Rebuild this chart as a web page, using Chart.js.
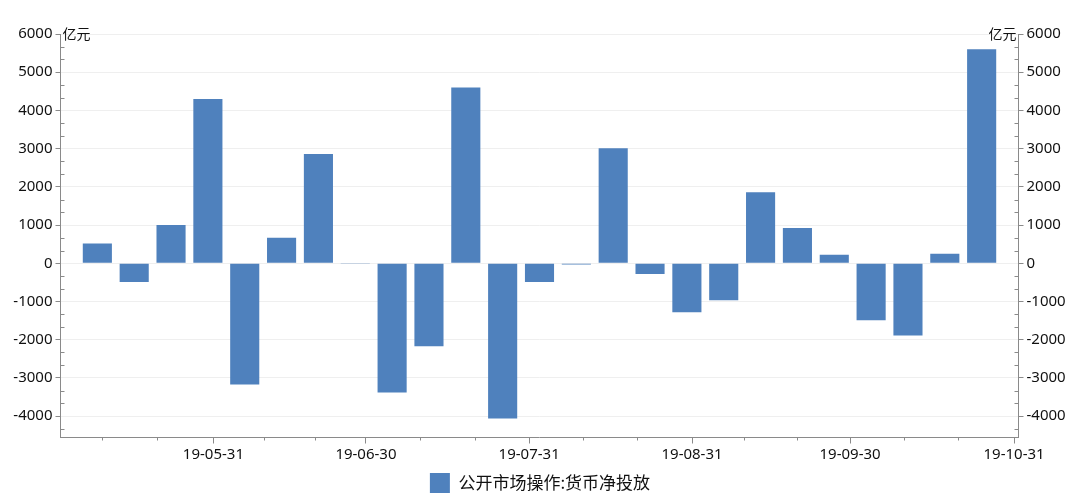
<!DOCTYPE html>
<html>
<head>
<meta charset="utf-8">
<script src="https://cdn.jsdelivr.net/npm/chart.js@4/dist/chart.umd.min.js"></script>
<style>
  html, body { margin: 0; background: #fff; }
  #wrap { width: 1080px; height: 503px; }
</style>
</head>
<body>
<div id="wrap"><canvas id="chart" width="1080" height="503"></canvas></div>
<script>
// weekly net injection from open market operations (亿元)
const seriesName = '公开市场操作:货币净投放';
const unitLabel = '亿元';
const netInjection = [520, -490, 1000, 4300, -3170, 670, 2860, -20, -3380, -2175, 4600, -4060, -490,
  -30, 3010, -280, -1285, -970, 1860, 920, 220, -1490, -1890, 250, 5600];

// x axis: month-end labels, given in week-index units
const dateTickLabels = ['19-05-31', '19-06-30', '19-07-31', '19-08-31', '19-09-30', '19-10-31'];
const dateTickPos = [3.15, 7.29, 11.72, 16.14, 20.43, 24.88];
const minorDatePos = [0.12, 1.63, 4.52, 5.90, 8.75, 10.24, 13.18, 14.65, 17.56, 18.99, 21.90, 23.36];

const yTicks = [-4000, -3000, -2000, -1000, 0, 1000, 2000, 3000, 4000, 5000, 6000];
const yMin = -4560, yMax = 6000;

const axisColor = '#8a8a8a';
const barColor = '#4f81bd';
const tickFont = { family: '"Noto Sans", sans-serif', size: 15 };

// two minor ticks between each pair of major y ticks
const yMinor = [];
for (let v = yTicks[0] - 1000; v < yMax; v += 1000) {
  [1 / 3, 2 / 3].forEach(f => {
    const m = v + 1000 * f;
    if (m > yMin && m < yMax) yMinor.push(m);
  });
}

const extras = {
  id: 'extras',
  afterDraw(chart) {
    const { ctx, chartArea, scales } = chart;
    ctx.save();
    ctx.strokeStyle = axisColor;
    ctx.lineWidth = 1;
    ctx.beginPath();
    yMinor.forEach(v => {
      const y = Math.round(scales.y.getPixelForValue(v)) + 0.5;
      ctx.moveTo(chartArea.left, y); ctx.lineTo(chartArea.left + 4, y);
      ctx.moveTo(chartArea.right, y); ctx.lineTo(chartArea.right - 4, y);
    });
    minorDatePos.forEach(p => {
      const x = Math.round(scales.x.getPixelForValue(p)) + 0.5;
      ctx.moveTo(x, chartArea.bottom); ctx.lineTo(x, chartArea.bottom + 3);
    });
    ctx.stroke();

    ctx.font = '14px "Noto Sans CJK SC", sans-serif';
    ctx.fillStyle = '#111';
    ctx.textBaseline = 'middle';
    ctx.textAlign = 'left';
    ctx.fillText(unitLabel, chartArea.left + 2, chartArea.top);
    ctx.textAlign = 'right';
    ctx.fillText(unitLabel, chartArea.right - 2, chartArea.top);
    ctx.restore();
  }
};

const yAxis = (position, onArea, width) => ({
  type: 'linear',
  position,
  min: yMin,
  max: yMax,
  afterBuildTicks: s => { s.ticks = yTicks.map(v => ({ value: v })); },
  afterFit: s => { s.width = width; },
  grid: { drawOnChartArea: onArea, color: '#efefef', tickColor: axisColor, tickLength: 5 },
  border: { color: axisColor },
  ticks: { color: '#111', font: tickFont, padding: 3, callback: v => String(v) }
});

new Chart(document.getElementById('chart'), {
  type: 'bar',
  data: {
    datasets: [{
      label: seriesName,
      data: netInjection.map((v, i) => ({ x: i, y: v })),
      backgroundColor: barColor,
      borderWidth: 0,
      categoryPercentage: 1,
      barPercentage: 0.79
    }]
  },
  plugins: [extras],
  options: {
    responsive: false,
    animation: false,
    layout: { padding: { top: 34, left: 0, right: 0, bottom: 0 } },
    plugins: {
      legend: {
        position: 'bottom',
        labels: {
          boxWidth: 20,
          boxHeight: 20,
          padding: 6,
          color: '#111',
          font: { family: '"Noto Sans CJK SC", sans-serif', size: 17 }
        }
      },
      tooltip: { enabled: false }
    },
    scales: {
      x: {
        type: 'linear',
        offset: false,
        min: -1,
        max: 25,
        afterBuildTicks: s => { s.ticks = dateTickPos.map(v => ({ value: v })); },
        afterFit: s => { s.height = 29.5; },
        grid: { drawOnChartArea: false, tickColor: axisColor, tickLength: 6, offset: false },
        border: { color: axisColor },
        ticks: {
          color: '#111',
          font: tickFont,
          padding: 2,
          autoSkip: false,
          maxRotation: 0,
          callback: (value, index) => dateTickLabels[index]
        }
      },
      y: yAxis('left', true, 60.5),
      y1: yAxis('right', false, 61.5)
    }
  }
});
</script>
</body>
</html>
